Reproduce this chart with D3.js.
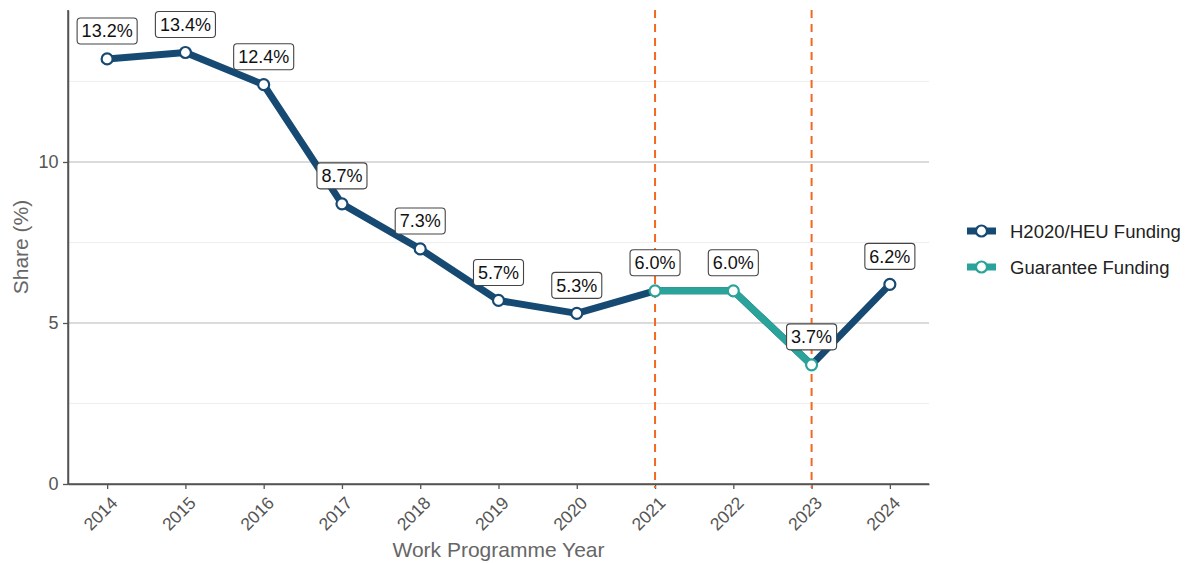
<!DOCTYPE html>
<html><head><meta charset="utf-8">
<script src="https://cdn.jsdelivr.net/npm/d3@7"></script>
<style>body{margin:0;background:#fff;font-family:"Liberation Sans",Arial,sans-serif;}</style>
</head><body><svg id="c" width="1188" height="563"></svg>
<script>
const years = [2014,2015,2016,2017,2018,2019,2020,2021,2022,2023,2024];
const heuValues = [13.2,13.4,12.4,8.7,7.3,5.7,5.3,6.0,6.0,3.7,6.2];
const guaranteeYears = [2021,2022,2023];
const guaranteeValues = [6.0,6.0,3.7];
const labelValues = [13.2,13.4,12.4,8.7,7.3,5.7,5.3,6.0,6.0,3.7,6.2];
const markerYears = [2021,2023];
const yTicks = [0,5,10];
const seriesNames = ["H2020/HEU Funding","Guarantee Funding"];
const colors = ["#164a73","#2aa39a"];

const FF = "Liberation Sans, Arial, sans-serif";
const svg = d3.select("#c");
const L=68,R=929,T=10,B=484;
const x = d3.scaleLinear().domain([2013.5,2024.5]).range([L,R]);
const y = d3.scaleLinear().domain([0,14.72]).range([B,T]);

// grid
[2.5,7.5,12.5].forEach(v=>svg.append("line").attr("x1",L).attr("x2",R).attr("y1",y(v)).attr("y2",y(v)).attr("stroke","#ebebeb").attr("stroke-width",0.8));
[5,10].forEach(v=>svg.append("line").attr("x1",L).attr("x2",R).attr("y1",y(v)).attr("y2",y(v)).attr("stroke","#cfcfcf").attr("stroke-width",1.4));

// axes
const gx = svg.append("g").attr("transform",`translate(0,${B})`).call(d3.axisBottom(x).tickValues(years).tickFormat(d3.format("d")).tickSize(5).tickSizeOuter(0));
gx.attr("font-size",17.5).attr("font-family",FF);
gx.select(".domain").attr("stroke","#555").attr("stroke-width",1.5);
gx.selectAll(".tick line").attr("stroke","#555").attr("stroke-width",1.3);
gx.selectAll(".tick text").attr("fill","#555").style("font-size","17.5px").style("font-family",FF)
  .attr("text-anchor","end").attr("dy",null).attr("y",0).attr("transform","translate(11,20) rotate(-45)");
const gy = svg.append("g").attr("transform",`translate(${L},0)`).call(d3.axisLeft(y).tickValues(yTicks).tickSize(5).tickSizeOuter(0));
gy.attr("font-size",18).attr("font-family",FF);
gy.select(".domain").attr("stroke","#555").attr("stroke-width",1.5);
gy.selectAll(".tick line").attr("stroke","#555").attr("stroke-width",1.3);
gy.selectAll(".tick text").attr("fill","#555").style("font-size","18px").style("font-family",FF).attr("x",-9.5);
svg.append("line").attr("x1",L).attr("x2",L).attr("y1",T).attr("y2",B).attr("stroke","#555").attr("stroke-width",1.5);
svg.append("line").attr("x1",L).attr("x2",R).attr("y1",B).attr("y2",B).attr("stroke","#555").attr("stroke-width",1.5);

// dashed markers
markerYears.forEach(yr=>svg.append("line").attr("x1",x(yr)).attr("x2",x(yr)).attr("y1",T).attr("y2",B+4)
  .attr("stroke","#f26a21").attr("stroke-width",2).attr("stroke-dasharray","8,6"));

// titles
svg.append("text").attr("x",(L+R)/2).attr("y",557).attr("text-anchor","middle").attr("fill","#666").style("font-size","21px").text("Work Programme Year");
svg.append("text").attr("transform",`translate(28,${(T+B)/2}) rotate(-90)`).attr("text-anchor","middle").attr("fill","#666").style("font-size","21px").text("Share (%)");

// lines
const line = d3.line().x(d=>x(d[0])).y(d=>y(d[1]));
const heu = years.map((d,i)=>[d,heuValues[i]]);
const gua = guaranteeYears.map((d,i)=>[d,guaranteeValues[i]]);
svg.append("path").datum(heu).attr("d",line).attr("fill","none").attr("stroke",colors[0]).attr("stroke-width",7).attr("stroke-linejoin","round");
svg.selectAll(".p0").data(heu.filter(d=>!guaranteeYears.includes(d[0]))).enter().append("circle").attr("cx",d=>x(d[0])).attr("cy",d=>y(d[1])).attr("r",5.5).attr("fill","#fff").attr("stroke",colors[0]).attr("stroke-width",2.2);
svg.append("path").datum(gua).attr("d",line).attr("fill","none").attr("stroke",colors[1]).attr("stroke-width",7).attr("stroke-linejoin","round");
svg.selectAll(".p1").data(gua).enter().append("circle").attr("cx",d=>x(d[0])).attr("cy",d=>y(d[1])).attr("r",5.5).attr("fill","#fff").attr("stroke",colors[1]).attr("stroke-width",2.2);

// labels
years.forEach((yr,i)=>{
  const v = labelValues[i];
  const g = svg.append("g").attr("transform",`translate(${x(yr)},${y(v)-28})`);
  const t = g.append("text").attr("text-anchor","middle").attr("dy","0.36em").style("font-size","18px").attr("fill","#111").text(v.toFixed(1)+"%");
  const bb = t.node().getBBox();
  g.insert("rect","text").attr("x",bb.x-4.5).attr("y",-13).attr("width",bb.width+9).attr("height",26).attr("rx",3.5)
    .attr("fill","#fff").attr("stroke","#444").attr("stroke-width",1.1);
});

// legend
seriesNames.forEach((n,i)=>{
  const ly = 231 + i*36;
  svg.append("line").attr("x1",967).attr("x2",996).attr("y1",ly).attr("y2",ly).attr("stroke",colors[i]).attr("stroke-width",7);
  svg.append("circle").attr("cx",981.5).attr("cy",ly).attr("r",5.5).attr("fill","#fff").attr("stroke",colors[i]).attr("stroke-width",2.2);
  svg.append("text").attr("x",1010).attr("y",ly).attr("dy","0.36em").style("font-size","18.5px").attr("fill","#222").text(n);
});
</script></body></html>
